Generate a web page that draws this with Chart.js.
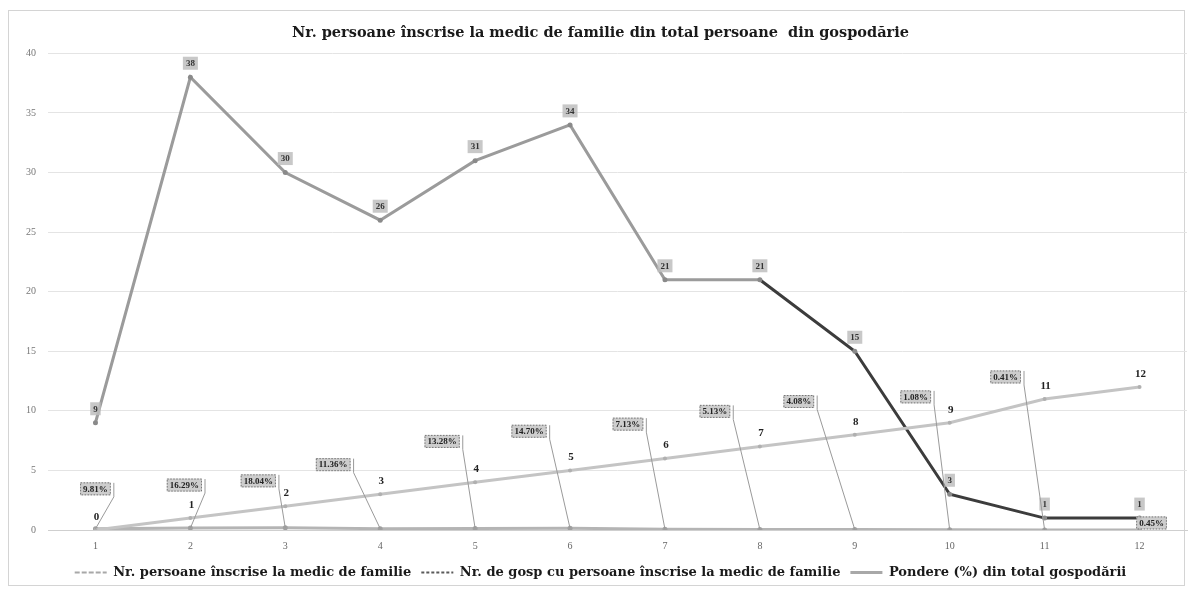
<!DOCTYPE html>
<html>
<head>
<meta charset="utf-8">
<script src="https://cdn.jsdelivr.net/npm/chart.js@4.4.1/dist/chart.umd.min.js"></script>
<style>
html,body{margin:0;padding:0;background:#fff;}
#wrap{width:1191px;height:589px;position:relative;}
</style>
</head>
<body>
<div id="wrap"><canvas id="c" width="1191" height="589"></canvas></div>
<script>
// ---- data ----
const categories = ['1','2','3','4','5','6','7','8','9','10','11','12'];
const nrPersoane = [0, 1, 2, 3, 4, 5, 6, 7, 8, 9, 11, 12];
const nrGosp = [9, 38, 30, 26, 31, 34, 21, 21, 15, 3, 1, 1];
const ponderePct = [9.81, 16.29, 18.04, 11.36, 13.28, 14.70, 7.13, 5.13, 4.08, 1.08, 0.41, 0.45];
const yTicks = [0, 5, 10, 15, 20, 25, 30, 35, 40];

const titleText = 'Nr. persoane înscrise la medic de familie din total persoane  din gospodărie';
const legendNames = [
  'Nr. persoane înscrise la medic de familie',
  'Nr. de gosp cu persoane înscrise la medic de familie',
  'Pondere (%) din total gospodării'
];

const SERIF = '"DejaVu Serif", "Liberation Serif", serif';
const SERIF2 = '"Liberation Serif", serif';

// label placement for the percentage call-outs (style only)
const pctLabelDy = [40, 43, 47, 64, 87, 97, 105, 118, 128, 133, 153, 7];
const pctLabelDx = [0, -6, -27, -47, -33, -41, -37, -45, -56, -34, -39, 12];
const legendStyles = [
  { color: '#a8a8a8', width: 2, dash: [5, 2] },
  { color: '#5a5a5a', width: 2, dash: [3, 2] },
  { color: '#a8a8a8', width: 3, dash: [] }
];

const frame = {
  id: 'frame',
  beforeDraw(chart) {
    const c = chart.ctx;
    c.save();
    c.fillStyle = '#fff';
    c.fillRect(0, 0, chart.width, chart.height);
    c.strokeStyle = '#d4d4d4';
    c.lineWidth = 1;
    c.strokeRect(8.5, 10.5, 1176, 575);
    c.restore();
  }
};

function box(c, x, y, text, font, fill, textColor, dashed) {
  c.font = font;
  const w = c.measureText(text).width + 6;
  const h = 13;
  c.fillStyle = fill;
  c.fillRect(x - w / 2, y - h / 2, w, h);
  if (dashed) {
    c.setLineDash([1.5, 1.5]);
    c.strokeStyle = '#777';
    c.lineWidth = 1;
    c.strokeRect(x - w / 2 + 0.5, y - h / 2 + 0.5, w - 1, h - 1);
    c.setLineDash([]);
  }
  c.fillStyle = textColor;
  c.textAlign = 'center';
  c.textBaseline = 'middle';
  c.fillText(text, x, y + 0.5);
  return w;
}

const labels = {
  id: 'labelsPlugin',
  afterDatasetsDraw(chart) {
    const c = chart.ctx;
    c.save();
    const m0 = chart.getDatasetMeta(0);
    m0.data.forEach((p, i) => {
      c.font = 'bold 11px ' + SERIF2;
      c.fillStyle = '#222';
      c.textAlign = 'center';
      c.textBaseline = 'middle';
      c.fillText(String(nrPersoane[i]), p.x + 1, p.y - 13);
    });
    const m1 = chart.getDatasetMeta(1);
    m1.data.forEach((p, i) => {
      box(c, p.x, p.y - 14, String(nrGosp[i]), 'bold 9px ' + SERIF2, 'rgba(190,190,190,0.85)', '#333', false);
    });
    const m2 = chart.getDatasetMeta(2);
    m2.data.forEach((p, i) => {
      const lx = p.x + pctLabelDx[i];
      const ly = p.y - pctLabelDy[i];
      const txt = ponderePct[i].toFixed(2) + '%';
      c.font = 'bold 9px ' + SERIF2;
      const w = c.measureText(txt).width + 6;
      c.strokeStyle = '#9a9a9a';
      c.lineWidth = 1;
      c.beginPath();
      if (pctLabelDy[i] > 20) {
        c.moveTo(lx + w / 2 + 3, ly - 6);
        c.lineTo(lx + w / 2 + 3, ly + 8);
        c.lineTo(p.x, p.y);
      }
      c.stroke();
      box(c, lx, ly, txt, 'bold 9px ' + SERIF2, 'rgba(200,200,200,0.9)', '#222', true);
    });
    c.restore();
  }
};

new Chart(document.getElementById('c'), {
  type: 'line',
  data: {
    labels: categories,
    datasets: [
      {
        label: legendNames[0],
        data: nrPersoane,
        borderColor: '#c4c4c4',
        backgroundColor: '#b0b0b0',
        borderWidth: 3,
        pointRadius: 2,
        pointBorderWidth: 0,
        tension: 0
      },
      {
        label: legendNames[1],
        data: nrGosp,
        borderColor: '#9b9b9b',
        backgroundColor: '#8a8a8a',
        borderWidth: 3,
        pointRadius: 2.5,
        pointBorderWidth: 0,
        tension: 0,
        segment: {
          borderColor: ctx => ctx.p0DataIndex >= 7 ? '#3c3c3c' : '#9b9b9b'
        }
      },
      {
        label: legendNames[2],
        data: ponderePct.map(v => v / 100),
        borderColor: '#b4b4b4',
        backgroundColor: '#a0a0a0',
        borderWidth: 3,
        pointRadius: 2.5,
        pointBorderWidth: 0,
        tension: 0
      }
    ]
  },
  options: {
    responsive: false,
    animation: false,
    layout: { padding: { left: 14, right: 4, top: 10, bottom: 0 } },
    plugins: {
      title: {
        display: true,
        text: titleText,
        color: '#1a1a1a',
        font: { family: SERIF, size: 14.5, weight: 'bold' },
        padding: { top: 15, bottom: 11 }
      },
      legend: {
        position: 'bottom',
        labels: {
          color: '#1a1a1a',
          font: { family: SERIF, size: 13, weight: 'bold' },
          usePointStyle: true,
          pointStyle: 'line',
          pointStyleWidth: 32,
          boxHeight: 10,
          padding: 10,
          generateLabels: chart => chart.data.datasets.map((ds, i) => ({
            text: ds.label,
            datasetIndex: i,
            strokeStyle: legendStyles[i].color,
            fillStyle: legendStyles[i].color,
            lineWidth: legendStyles[i].width,
            lineDash: legendStyles[i].dash,
            pointStyle: 'line',
            fontColor: '#1a1a1a',
            hidden: false
          }))
        }
      },
      tooltip: { enabled: false }
    },
    scales: {
      x: {
        offset: true,
        grid: { display: false, drawTicks: false },
        border: { color: '#cfcfcf' },
        ticks: { color: '#666', font: { family: SERIF2, size: 10 }, padding: 10 },
        afterFit: scale => { scale.height = 26; }
      },
      y: {
        min: 0,
        max: 40,
        afterBuildTicks: axis => { axis.ticks = yTicks.map(v => ({ value: v })); },
        grid: { color: '#e4e4e4', drawTicks: false },
        border: { display: false },
        ticks: { color: '#777', font: { family: SERIF2, size: 10 }, padding: 12 }
      }
    }
  },
  plugins: [frame, labels]
});
</script>
</body>
</html>
